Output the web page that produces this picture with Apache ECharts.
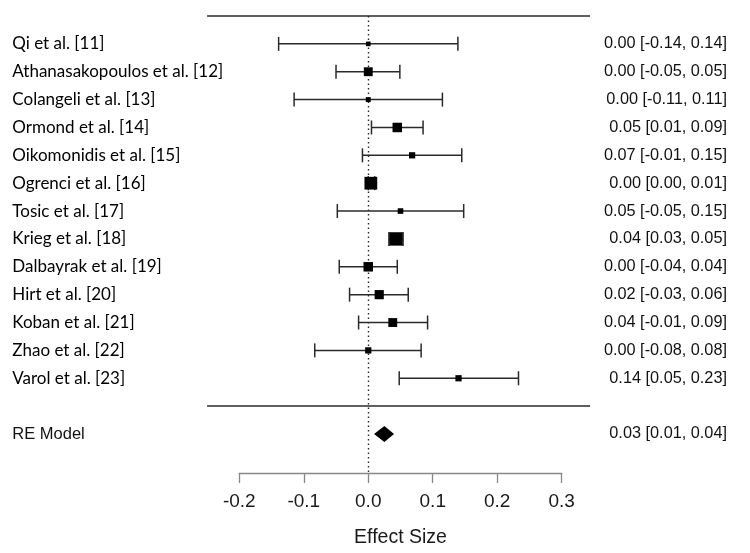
<!DOCTYPE html>
<html>
<head>
<meta charset="utf-8">
<script src="https://cdn.jsdelivr.net/npm/echarts@6/dist/echarts.min.js"></script>
<style>
  html, body { margin: 0; padding: 0; background: #fff; }
  #chart { width: 750px; height: 553px; }
</style>
</head>
<body>
<div id="chart"></div>
<script>
  "use strict";

  // study rows, top to bottom (row 1..13)
  const studies = [
    "Qi et al. [11]",
    "Athanasakopoulos et al. [12]",
    "Colangeli et al. [13]",
    "Ormond et al. [14]",
    "Oikomonidis et al. [15]",
    "Ogrenci et al. [16]",
    "Tosic et al. [17]",
    "Krieg et al. [18]",
    "Dalbayrak et al. [19]",
    "Hirt et al. [20]",
    "Koban et al. [21]",
    "Zhao et al. [22]",
    "Varol et al. [23]",
  ];
  const estimates = [0.000, 0.000, 0.000, 0.045, 0.068, 0.004, 0.050, 0.043, 0.000, 0.017, 0.038, 0.000, 0.140];
  const lower = [-0.139, -0.050, -0.115, 0.005, -0.009, 0.000, -0.048, 0.032, -0.045, -0.029, -0.015, -0.083, 0.048];
  const upper = [0.139, 0.049, 0.115, 0.085, 0.145, 0.010, 0.148, 0.054, 0.045, 0.062, 0.092, 0.082, 0.233];
  const weights = [2.5, 9, 3, 10, 5, 15, 4, 16, 10, 9.5, 9, 5, 5];
  const estimateText = [
    "0.00 [-0.14, 0.14]",
    "0.00 [-0.05, 0.05]",
    "0.00 [-0.11, 0.11]",
    "0.05 [0.01, 0.09]",
    "0.07 [-0.01, 0.15]",
    "0.00 [0.00, 0.01]",
    "0.05 [-0.05, 0.15]",
    "0.04 [0.03, 0.05]",
    "0.00 [-0.04, 0.04]",
    "0.02 [-0.03, 0.06]",
    "0.04 [-0.01, 0.09]",
    "0.00 [-0.08, 0.08]",
    "0.14 [0.05, 0.23]",
  ];

  // pooled random-effects estimate
  const modelName = "RE Model";
  const modelEstimate = 0.025;
  const modelLower = 0.009;
  const modelUpper = 0.040;
  const modelText = "0.03 [0.01, 0.04]";

  const axisTicks = [-0.2, -0.1, 0.0, 0.1, 0.2, 0.3];

  const modelRow = studies.length + 2;
  const separatorRow = studies.length + 1;
  const ruleFrom = -0.25;
  const ruleTo = 0.344;
  const ink = "#2a2a2a";

  const leftLabels = {};
  const rightLabels = {};
  studies.forEach((name, i) => {
    leftLabels[i + 1] = `{study|${name}}`;
    rightLabels[i + 1] = estimateText[i];
  });
  leftLabels[modelRow] = `{model|${modelName}}`;
  rightLabels[modelRow] = modelText;

  const chart = echarts.init(document.getElementById("chart"), null, { renderer: "canvas" });

  const yBase = {
    type: "value",
    min: 0,
    max: 16.4,
    interval: 1,
    inverse: true,
    axisLine: { show: false },
    axisTick: { show: false },
    splitLine: { show: false },
  };

  chart.setOption({
    animation: false,
    backgroundColor: "#fff",
    grid: { left: 239.3, right: 188.3, top: 16, bottom: 79 },
    xAxis: {
      type: "value",
      position: "bottom",
      min: axisTicks[0],
      max: axisTicks[axisTicks.length - 1],
      interval: 0.1,
      name: "Effect Size",
      nameLocation: "middle",
      nameGap: 55,
      nameTextStyle: { color: "#1a1a1a", fontFamily: "Liberation Sans", fontSize: 19.5 },
      axisLine: { onZero: false, lineStyle: { color: "#888", width: 1.3 } },
      axisTick: { length: 10, lineStyle: { color: "#888", width: 1.3 } },
      axisLabel: {
        color: "#1a1a1a",
        fontFamily: "Liberation Sans",
        fontSize: 19,
        margin: 19,
        formatter: (v) => v.toFixed(1),
      },
      splitLine: { show: false },
    },
    yAxis: [
      {
        ...yBase,
        position: "left",
        axisLabel: {
          align: "left",
          margin: 227,
          formatter: (v) => leftLabels[v] || "",
          rich: {
            study: { color: "#000", fontFamily: "Lato", fontSize: 17 },
            model: { color: "#111", fontFamily: "Liberation Sans", fontSize: 16.5 },
          },
        },
      },
      {
        ...yBase,
        position: "right",
        axisLabel: {
          align: "right",
          margin: 165.3,
          color: "#111",
          fontFamily: "Liberation Sans",
          fontSize: 16.3,
          formatter: (v) => rightLabels[v] || "",
        },
      },
    ],
    series: [
      {
        name: "rules",
        type: "custom",
        silent: true,
        data: [[0], [separatorRow]],
        renderItem: (params, api) => {
          const row = api.value(0);
          const a = api.coord([ruleFrom, row]);
          const b = api.coord([ruleTo, row]);
          return {
            type: "line",
            shape: { x1: a[0], y1: a[1], x2: b[0], y2: b[1] },
            style: { stroke: ink, lineWidth: 1.5 },
          };
        },
      },
      {
        name: "intervals",
        type: "custom",
        silent: true,
        data: studies.map((_, i) => [lower[i], upper[i], i + 1]),
        renderItem: (params, api) => {
          const row = api.value(2);
          const a = api.coord([api.value(0), row]);
          const b = api.coord([api.value(1), row]);
          const cap = 7;
          const style = { stroke: ink, lineWidth: 1.5 };
          return {
            type: "group",
            children: [
              { type: "line", shape: { x1: a[0], y1: a[1], x2: b[0], y2: b[1] }, style },
              { type: "line", shape: { x1: a[0], y1: a[1] - cap, x2: a[0], y2: a[1] + cap }, style },
              { type: "line", shape: { x1: b[0], y1: b[1] - cap, x2: b[0], y2: b[1] + cap }, style },
            ],
          };
        },
        markLine: {
          silent: true,
          symbol: "none",
          label: { show: false },
          lineStyle: { color: ink, type: [1.5, 3], width: 1.4 },
          data: [{ xAxis: 0 }],
        },
      },
      {
        name: "estimates",
        type: "scatter",
        silent: true,
        symbol: "rect",
        itemStyle: { color: "#000", opacity: 1 },
        symbolSize: (value, params) => 3 + 0.65 * weights[params.dataIndex],
        data: estimates.map((v, i) => [v, i + 1]),
        z: 5,
      },
      {
        name: "model",
        type: "custom",
        silent: true,
        data: [[modelLower, modelEstimate, modelUpper, modelRow]],
        renderItem: (params, api) => {
          const row = api.value(3);
          const l = api.coord([api.value(0), row]);
          const m = api.coord([api.value(1), row]);
          const r = api.coord([api.value(2), row]);
          const h = 8;
          return {
            type: "polygon",
            shape: { points: [[l[0], l[1]], [m[0], m[1] - h], [r[0], r[1]], [m[0], m[1] + h]] },
            style: { fill: "#000" },
          };
        },
        z: 5,
      },
    ],
  });
</script>
</body>
</html>
